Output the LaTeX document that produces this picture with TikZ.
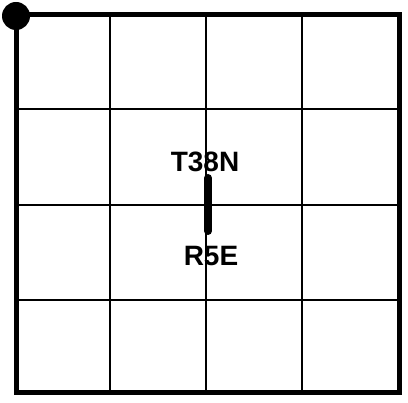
\documentclass[tikz,border=0pt]{standalone}
\usepackage{fontspec}
\setmainfont{Liberation Sans}
\usetikzlibrary{positioning}

\begin{document}
\begin{tikzpicture}[
  x=1pt, y=-1pt,
  frame/.style={line width=5pt},
  gridline/.style={line width=2.2pt},
  label/.style={font=\fontsize{28}{28}\selectfont\bfseries, inner sep=0pt, anchor=base},
]
  \useasboundingbox (0,0) rectangle (408,403);
  % inner grid lines
  \foreach \gx in {110,206,302}
    \draw[gridline] (\gx,15) -- (\gx,393);
  \foreach \gy in {109,205,300}
    \draw[gridline] (16,\gy) -- (399,\gy);
  % outer frame and corner dot
  \draw[frame] (16,15) rectangle (399,393);
  \fill (16,16) circle (14);
  % township line
  \coordinate (top) at (208,178);
  \coordinate (bot) at (208,231);
  \draw[line width=8pt, line cap=round] (top) -- (bot);
  \node[label] (twp) at (205,172) {T38N};
  \node[label] (rng) at (211,266) {R5E};
\end{tikzpicture}
\end{document}
